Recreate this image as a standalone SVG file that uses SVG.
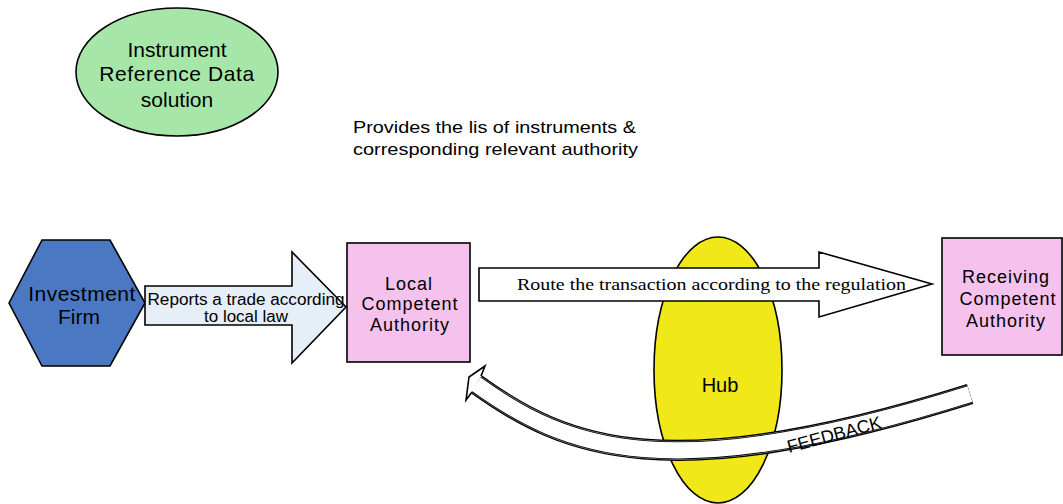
<svg xmlns="http://www.w3.org/2000/svg" width="1063" height="504" viewBox="0 0 1063 504">
  <style>
    .outline { stroke: #000; stroke-width: 1.6; stroke-linejoin: miter; }
    .sans { font-family: "Liberation Sans", Arial, sans-serif; fill: #000; }
    .serif { font-family: "Liberation Serif", "Times New Roman", serif; fill: #000; }
    .mid { text-anchor: middle; }
    .box { fill: #f4c2ec; }
  </style>
  <rect width="1063" height="504" fill="#fff"/>

  <!-- Instrument reference data source -->
  <g id="irds">
    <ellipse class="outline" cx="177" cy="72" rx="101" ry="64" fill="#a6e6a8"/>
    <text class="sans mid" font-size="21" x="177" y="57">Instrument</text>
    <text class="sans mid" font-size="21" x="177" y="81" letter-spacing="0.6">Reference Data</text>
    <text class="sans mid" font-size="21" x="177" y="107">solution</text>
  </g>

  <!-- Annotation -->
  <g id="note">
    <text class="sans" font-size="17" x="353" y="133" textLength="283" lengthAdjust="spacingAndGlyphs">Provides the lis of instruments &amp;</text>
    <text class="sans" font-size="17" x="353" y="155" textLength="285" lengthAdjust="spacingAndGlyphs">corresponding relevant authority</text>
  </g>

  <!-- Hub (behind the arrows) -->
  <g id="hub">
    <ellipse class="outline" cx="718" cy="370" rx="64" ry="133" fill="#f0e818"/>
    <text class="sans mid" font-size="20" x="720" y="392">Hub</text>
  </g>

  <!-- Investment firm -->
  <g id="investment-firm">
    <polygon class="outline" points="9,303 42,240 110,240 145,303 110,366 42,366" fill="#4a78c2"/>
    <text class="sans mid" font-size="21" x="82" y="301" letter-spacing="0.5">Investment</text>
    <text class="sans mid" font-size="21" x="79" y="324">Firm</text>
  </g>

  <!-- Local competent authority -->
  <g id="local-ca">
    <rect class="outline box" x="347" y="243" width="123" height="119"/>
    <text class="sans mid" font-size="18" x="409" y="290" letter-spacing="1">Local</text>
    <text class="sans mid" font-size="18" x="410" y="310" letter-spacing="1">Competent</text>
    <text class="sans mid" font-size="18" x="410" y="331" letter-spacing="1">Authority</text>
  </g>

  <!-- Receiving competent authority -->
  <g id="receiving-ca">
    <rect class="outline box" x="942" y="238" width="120" height="117"/>
    <text class="sans mid" font-size="18" x="1006" y="283" letter-spacing="1">Receiving</text>
    <text class="sans mid" font-size="18" x="1008" y="305" letter-spacing="1">Competent</text>
    <text class="sans mid" font-size="18" x="1006" y="327" letter-spacing="1">Authority</text>
  </g>

  <!-- Connectors -->
  <g id="connectors">
    <!-- report arrow -->
    <g id="report">
      <polygon class="outline" points="145,286 292,286 292,252 346,307 292,363 292,325 145,325" fill="#e6eef8"/>
      <text class="sans mid" font-size="16" x="246" y="305" textLength="197" lengthAdjust="spacingAndGlyphs">Reports a trade according</text>
      <text class="sans mid" font-size="16" x="246" y="322" textLength="84" lengthAdjust="spacingAndGlyphs">to local law</text>
    </g>
    <!-- routing arrow -->
    <g id="route">
      <polygon class="outline" points="479,268 819,268 819,252 932,284 819,317 819,301 479,301" fill="#fff"/>
      <text class="serif" font-size="17" x="517" y="290" textLength="389" lengthAdjust="spacingAndGlyphs">Route the transaction according to the regulation</text>
    </g>
    <!-- feedback arrow -->
    <g id="feedback">
      <path d="M476,384 C566,449 668,489 970,394" fill="none" stroke="#000" stroke-width="21"/>
      <path d="M476,384 C566,449 668,489 970,394" fill="none" stroke="#999" stroke-width="18.6"/>
      <path d="M476,384 C566,449 668,489 970,394" fill="none" stroke="#000" stroke-width="17.6"/>
      <path d="M476,384 C566,449 668,489 970,394" fill="none" stroke="#fff" stroke-width="16"/>
      <path d="M481,376 L485,366 L469,377 L466,400 L472,392" fill="#fff" stroke="#000" stroke-width="1.6" stroke-linejoin="miter"/>
      <text class="sans" font-size="18" transform="translate(789,453) rotate(-15)">FEEDBACK</text>
    </g>
  </g>
</svg>
